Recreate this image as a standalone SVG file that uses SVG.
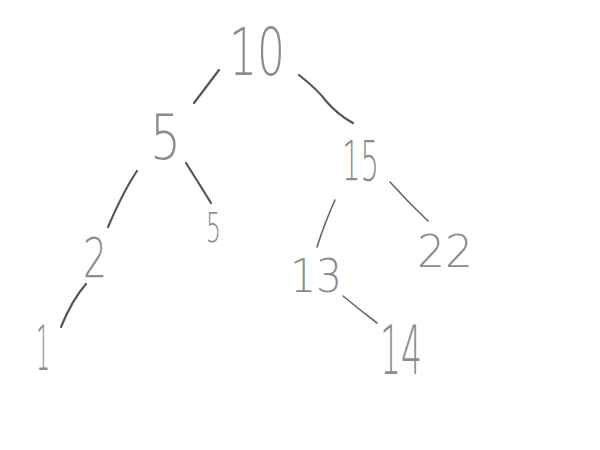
<svg xmlns="http://www.w3.org/2000/svg" width="600" height="450" viewBox="0 0 600 450">
<style>
.n{font-family:"DejaVu Sans","Liberation Sans",sans-serif;font-weight:200;fill:#8c8c8c}
.c{fill:none;stroke:#555;stroke-width:2.2;stroke-linecap:round}
.t{stroke-width:1.6;stroke:#666}
</style>
<rect width="600" height="450" fill="#fff"/>
<g id="connectors">
<path class="c" d="M219,70 L194,103"/>
<path class="c" d="M299,75 Q318,90 326,101 Q338,115 353,123"/>
<path class="c" d="M137,171 Q124,190 108,227"/>
<path class="c" d="M186,163 Q200,185 211,203"/>
<path class="c" d="M86,284 Q72,300 61,327"/>
<path class="c t" d="M335,200 Q325,222 317,247"/>
<path class="c t" d="M390,182 Q408,202 428,221"/>
<path class="c t" d="M343,296 Q360,310 377,323"/>
</g>
<g id="n10"><text class="n" x="229" y="75" font-size="66" textLength="56" lengthAdjust="spacingAndGlyphs">10</text></g>
<g id="n5a"><text class="n" x="150" y="159" font-size="62" textLength="31" lengthAdjust="spacingAndGlyphs">5</text></g>
<g id="n5b"><text class="n" x="206" y="242" font-size="41" textLength="15" lengthAdjust="spacingAndGlyphs">5</text></g>
<g id="n2"><text class="n" x="83" y="277" font-size="55" textLength="24" lengthAdjust="spacingAndGlyphs">2</text></g>
<g id="n1"><text class="n" x="36" y="370" font-size="62" textLength="14" lengthAdjust="spacingAndGlyphs">1</text></g>
<g id="n15"><text class="n" x="342" y="180" font-size="55" textLength="37" lengthAdjust="spacingAndGlyphs">15</text></g>
<g id="n22"><text class="n" x="417" y="267" font-size="44" textLength="56" lengthAdjust="spacingAndGlyphs">22</text></g>
<g id="n13"><text class="n" x="290" y="292" font-size="47" textLength="52" lengthAdjust="spacingAndGlyphs">13</text></g>
<g id="n14"><text class="n" x="380" y="374" font-size="68" textLength="42" lengthAdjust="spacingAndGlyphs">14</text></g>
</svg>
